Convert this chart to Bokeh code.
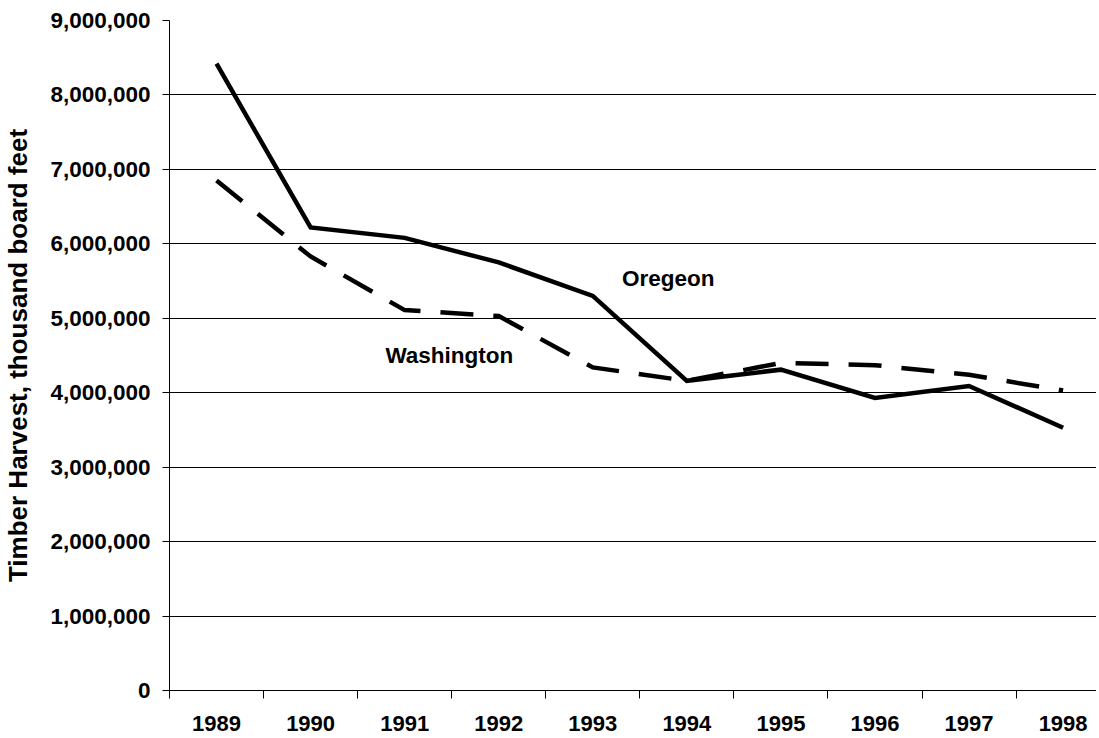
from bokeh.plotting import figure
from bokeh.models import Range1d, FixedTicker, NumeralTickFormatter, BasicTickFormatter, Label
from bokeh.embed import file_html
from bokeh.resources import INLINE

years = [1989, 1990, 1991, 1992, 1993, 1994, 1995, 1996, 1997, 1998]
oregon = [8420000, 6220000, 6080000, 5750000, 5300000, 4160000, 4310000, 3930000, 4090000, 3530000]
washington = [6850000, 5830000, 5110000, 5030000, 4340000, 4160000, 4400000, 4370000, 4240000, 4030000]
y_ticks = [0, 1000000, 2000000, 3000000, 4000000, 5000000, 6000000, 7000000, 8000000, 9000000]
y_title = "Timber Harvest, thousand board feet"

FONT = "Liberation Sans"

p = figure(width=1096, height=735, output_backend="svg", toolbar_location=None,
           x_range=Range1d(years[0] - 0.5, years[0] - 0.5 + 9.855),
           y_range=Range1d(y_ticks[0], y_ticks[-1]),
           min_border_left=166, min_border_top=20, min_border_bottom=45, min_border_right=0)
p.outline_line_color = None
p.background_fill_color = "white"
p.border_fill_color = "white"

# x axis: labels at years, ticks between categories
xa = p.xaxis[0]
xa.ticker = FixedTicker(ticks=years, minor_ticks=[y - 0.5 for y in years] + [years[-1] + 0.5])
xa.formatter = BasicTickFormatter(use_scientific=False)
xa.major_tick_out = 0
xa.major_tick_in = 0
xa.minor_tick_out = 8
xa.minor_tick_in = 0
xa.minor_tick_line_color = "black"
xa.axis_line_color = "black"
xa.major_label_standoff = 17
xa.major_label_text_font = FONT
xa.major_label_text_font_style = "bold"
xa.major_label_text_font_size = "22px"
xa.major_label_text_color = "black"

ya = p.yaxis[0]
ya.ticker = FixedTicker(ticks=y_ticks)
ya.formatter = NumeralTickFormatter(format="0,0")
ya.major_tick_out = 7
ya.major_tick_in = 0
ya.minor_tick_out = 0
ya.minor_tick_in = 0
ya.axis_line_color = "black"
ya.major_tick_line_color = "black"
ya.major_label_standoff = 12
ya.major_label_text_font = FONT
ya.major_label_text_font_style = "bold"
ya.major_label_text_font_size = "22.5px"
ya.major_label_text_color = "black"
ya.axis_label = y_title
ya.axis_label_text_font = FONT
ya.axis_label_text_font_style = "bold"
ya.axis_label_text_font_size = "26px"
ya.axis_label_text_color = "black"
ya.axis_label_standoff = 14

p.xgrid.grid_line_color = None
p.ygrid.grid_line_color = "black"
p.ygrid.grid_line_width = 1
p.ygrid.ticker = FixedTicker(ticks=y_ticks)

p.line(years, washington, line_color="black", line_width=4.5, line_dash="33 20",
       line_cap="butt", line_join="miter")
p.line(years, oregon, line_color="black", line_width=4.5, line_join="miter")

p.add_layout(Label(x=1993.31, y=5530000, text="Oregeon", text_font=FONT, text_font_style="bold",
                   text_font_size="22.5px", text_align="left", text_baseline="middle", text_color="black"))
p.add_layout(Label(x=1990.795, y=4500000, text="Washington", text_font=FONT, text_font_style="bold",
                   text_font_size="22.5px", text_align="left", text_baseline="middle", text_color="black"))

open("out.html", "w").write(file_html(p, INLINE))
